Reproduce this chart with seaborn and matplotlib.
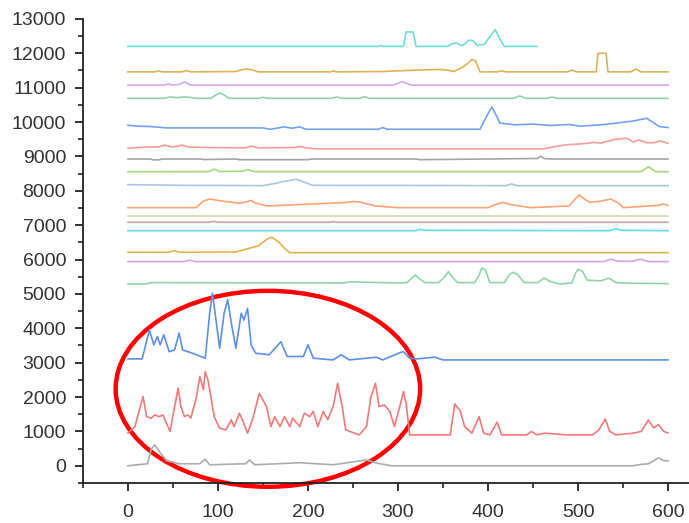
import matplotlib
matplotlib.use("Agg")
import matplotlib.pyplot as plt
import pandas as pd
import seaborn as sns
from matplotlib.patches import Ellipse
from matplotlib.ticker import MultipleLocator

# --- traces, top to bottom (x, intensity) ---
cyan_top_x = [0, 278, 281, 284, 306, 309, 317, 320, 355, 360, 365, 370, 374, 378, 383, 388, 396, 400, 408, 413, 418, 454]
cyan_top_y = [12200, 12200, 12230, 12200, 12200, 12620, 12620, 12200, 12200, 12280, 12300, 12220, 12260, 12380,
              12370, 12230, 12260, 12420, 12690, 12420, 12200, 12200]

gold_top_x = [0, 30, 34, 38, 60, 65, 70, 120, 128, 132, 138, 145, 225, 228, 232, 284, 290, 300, 320, 347, 355, 362,
              372, 378, 382, 386, 391, 410, 415, 420, 488, 493, 498, 520, 522, 531, 533, 558, 564, 570, 600]
gold_top_y = [11460, 11460, 11490, 11460, 11460, 11500, 11460, 11470, 11530, 11540, 11520, 11460, 11460, 11490,
              11460, 11470, 11480, 11490, 11510, 11530, 11510, 11470, 11600, 11720, 11820, 11780, 11460, 11460,
              11490, 11460, 11460, 11510, 11460, 11460, 12000, 12000, 11460, 11460, 11540, 11460, 11460]

violet_top_x = [0, 40, 45, 50, 58, 63, 70, 295, 300, 304, 310, 315, 600]
violet_top_y = [11075, 11075, 11110, 11080, 11100, 11170, 11075, 11075, 11130, 11180, 11120, 11075, 11075]

green_top_x = [0, 40, 47, 55, 62, 69, 75, 92, 98, 102, 107, 112, 145, 150, 155, 226, 232, 238, 258, 263, 268,
               428, 435, 442, 466, 471, 476, 600]
green_top_y = [10690, 10690, 10730, 10710, 10730, 10720, 10690, 10690, 10790, 10850, 10790, 10690, 10690, 10720,
               10690, 10690, 10730, 10690, 10690, 10740, 10690, 10690, 10760, 10690, 10690, 10730, 10690, 10690]

blue_top_x = [0, 10, 25, 43, 150, 158, 165, 174, 182, 191, 198, 278, 283, 288, 391, 398, 404, 410, 413, 430, 450,
              470, 490, 502, 530, 561, 576, 590, 600]
blue_top_y = [9910, 9880, 9870, 9830, 9830, 9790, 9820, 9860, 9820, 9860, 9790, 9790, 9840, 9790, 9790, 10150,
              10440, 10150, 9970, 9920, 9940, 9900, 9930, 9880, 9930, 10030, 10110, 9870, 9840]

red_top_x = [0, 20, 35, 41, 48, 55, 60, 68, 90, 130, 137, 145, 185, 191, 198, 210, 300, 461, 475, 487, 500, 510,
             517, 525, 540, 554, 561, 567, 576, 584, 591, 600]
red_top_y = [9240, 9270, 9280, 9330, 9280, 9290, 9330, 9270, 9260, 9250, 9300, 9250, 9260, 9290, 9250, 9220, 9220,
             9220, 9290, 9340, 9360, 9380, 9410, 9390, 9490, 9530, 9420, 9480, 9400, 9400, 9450, 9380]

grey_top_x = [0, 25, 28, 35, 38, 80, 85, 120, 124, 200, 204, 320, 324, 455, 458, 462, 470, 600]
grey_top_y = [8925, 8925, 8900, 8900, 8925, 8925, 8910, 8925, 8905, 8905, 8925, 8925, 8905, 8940, 9010, 8940,
              8925, 8925]

lime_x = [0, 90, 96, 102, 128, 133, 140, 570, 578, 586, 600]
lime_y = [8555, 8560, 8630, 8560, 8570, 8620, 8560, 8560, 8700, 8560, 8555]

skyblue_x = [0, 60, 150, 165, 171, 180, 187, 195, 205, 420, 426, 432, 600]
skyblue_y = [8180, 8160, 8150, 8220, 8260, 8300, 8335, 8260, 8160, 8150, 8200, 8150, 8150]

orange_x = [0, 76, 84, 91, 105, 124, 132, 137, 142, 155, 243, 250, 258, 275, 300, 400, 410, 417, 425, 447, 490,
            496, 501, 508, 513, 525, 536, 545, 550, 580, 590, 595, 600]
orange_y = [7510, 7510, 7700, 7760, 7700, 7640, 7680, 7720, 7640, 7560, 7660, 7690, 7670, 7560, 7510, 7510, 7620,
            7660, 7600, 7510, 7560, 7740, 7880, 7740, 7660, 7700, 7760, 7640, 7510, 7560, 7580, 7620, 7570]

khaki_x = [0, 600]
khaki_y = [7280, 7280]

rosy_x = [0, 90, 95, 100, 225, 228, 232, 600]
rosy_y = [7085, 7085, 7110, 7085, 7085, 7105, 7085, 7085]

cyan_mid_x = [0, 320, 325, 330, 535, 541, 550, 600]
cyan_mid_y = [6840, 6840, 6880, 6850, 6840, 6890, 6850, 6840]

gold_mid_x = [0, 45, 52, 58, 110, 120, 145, 155, 160, 168, 175, 180, 600]
gold_mid_y = [6210, 6210, 6260, 6210, 6220, 6220, 6400, 6600, 6650, 6500, 6300, 6200, 6200]

violet_mid_x = [0, 62, 69, 75, 528, 536, 544, 560, 569, 578, 600]
violet_mid_y = [5940, 5940, 5980, 5940, 5940, 6010, 5950, 5950, 6010, 5940, 5940]

green_mid_x = [0, 20, 26, 240, 246, 300, 310, 315, 319, 324, 330, 345, 352, 356, 360, 366, 385, 390, 393, 397,
               402, 418, 424, 428, 433, 440, 455, 462, 470, 480, 493, 497, 500, 505, 510, 525, 534, 542, 560, 600]
green_mid_y = [5290, 5290, 5330, 5320, 5350, 5320, 5330, 5450, 5550, 5440, 5330, 5330, 5500, 5650, 5500, 5330,
               5330, 5550, 5750, 5700, 5330, 5330, 5570, 5630, 5560, 5330, 5330, 5460, 5350, 5290, 5320, 5600,
               5720, 5650, 5400, 5380, 5460, 5330, 5310, 5300]

blue_low_x = [0, 16, 24, 29, 33, 36, 40, 46, 52, 57, 61, 72, 86, 91, 94, 98, 102, 107, 111, 115, 120, 126, 129,
              133, 137, 142, 157, 170, 177, 195, 200, 206, 228, 237, 246, 265, 276, 283, 302, 306, 313, 321, 341,
              350, 600]
blue_low_y = [3110, 3110, 3950, 3520, 3760, 3520, 3810, 3320, 3370, 3860, 3370, 3275, 3130, 4440, 5020, 4240,
              3420, 4440, 4830, 4150, 3420, 4440, 4240, 4580, 3520, 3275, 3230, 3610, 3180, 3180, 3520, 3130,
              3080, 3230, 3080, 3130, 3160, 3080, 3290, 3320, 3130, 3110, 3160, 3080, 3080]

red_low_x = [0, 8, 17, 21, 26, 30, 35, 39, 43, 47, 52, 56, 59, 63, 67, 70, 76, 80, 84, 86, 89, 92, 96, 102, 109,
             115, 118, 124, 128, 133, 139, 146, 154, 159, 163, 169, 174, 180, 183, 191, 196, 202, 206, 211, 217,
             222, 228, 233, 238, 242, 257, 265, 270, 275, 279, 285, 291, 296, 302, 306, 309, 313, 358, 363, 369,
             374, 382, 390, 395, 402, 410, 415, 443, 448, 454, 463, 487, 516, 523, 530, 535, 542, 561, 570, 578,
             584, 589, 595, 600]
red_low_y = [950, 1140, 2015, 1430, 1385, 1480, 1430, 1480, 1240, 1000, 1725, 2260, 1725, 1430, 1480, 1385, 1965,
             2600, 2210, 2740, 2500, 2060, 1430, 1095, 1045, 1340, 1140, 1530, 1290, 950, 1385, 2110, 1725, 1140,
             1430, 1140, 1430, 1140, 1385, 1140, 1530, 1430, 1580, 1140, 1580, 1340, 1725, 2400, 1725, 1045, 900,
             1140, 2015, 2400, 1725, 1770, 1580, 1140, 1725, 2160, 1820, 900, 900, 1800, 1600, 1140, 950, 1430,
             950, 900, 1270, 900, 900, 1000, 900, 950, 900, 900, 1050, 1360, 1000, 900, 950, 1000, 1330, 1100,
             1200, 1000, 950]

grey_low_x = [0, 22, 26, 30, 35, 43, 57, 80, 86, 91, 131, 135, 141, 191, 228, 265, 276, 293, 560, 570, 578, 584,
              589, 595, 600]
grey_low_y = [0, 60, 480, 610, 420, 150, 60, 60, 190, 30, 60, 170, 30, 90, 30, 170, 80, 0, 0, 40, 60, 150, 230,
              150, 140]

trace_colors = ["#72dcdc", "#deb256", "#d6a8ee", "#92d2a4", "#74a2ee", "#f59c9c", "#a4a4a4", "#a8d67e",
                "#a8c6e8", "#f8a474", "#d6d6aa", "#caa8a8", "#62dcec", "#e0b44c", "#d2a4f0", "#90d4a8",
                "#5c90ea", "#f07a7a", "#acacac"]

traces = [
    (cyan_top_x, cyan_top_y), (gold_top_x, gold_top_y), (violet_top_x, violet_top_y),
    (green_top_x, green_top_y), (blue_top_x, blue_top_y), (red_top_x, red_top_y),
    (grey_top_x, grey_top_y), (lime_x, lime_y), (skyblue_x, skyblue_y), (orange_x, orange_y),
    (khaki_x, khaki_y), (rosy_x, rosy_y), (cyan_mid_x, cyan_mid_y), (gold_mid_x, gold_mid_y),
    (violet_mid_x, violet_mid_y), (green_mid_x, green_mid_y), (blue_low_x, blue_low_y),
    (red_low_x, red_low_y), (grey_low_x, grey_low_y),
]

frames = []
for i, (xs, ys) in enumerate(traces):
    frames.append(pd.DataFrame({"x": xs, "y": ys, "trace": f"t{i:02d}"}))
df = pd.concat(frames, ignore_index=True)
palette = {f"t{i:02d}": c for i, c in enumerate(trace_colors)}

sns.set_style("ticks")
plt.rcParams["font.family"] = ["Liberation Sans", "DejaVu Sans"]

fig = plt.figure(figsize=(6.89, 5.23), dpi=100)
ax = fig.add_axes([0.12, 0.0765, 0.88, 0.8873])

sns.lineplot(data=df, x="x", y="y", hue="trace", palette=palette, estimator=None, sort=False,
             legend=False, linewidth=1.2, ax=ax)

# red ellipse highlighting the low-x region
ax.add_patch(Ellipse((155.6, 2240), 338, 5700, fill=False, edgecolor="#ff0000", linewidth=3.2, clip_on=False))

ax.set_xlim(-50, 623)
ax.set_ylim(-500, 13000)
ax.xaxis.set_major_locator(MultipleLocator(100))
ax.xaxis.set_minor_locator(MultipleLocator(50))
ax.yaxis.set_major_locator(MultipleLocator(1000))
ax.yaxis.set_minor_locator(MultipleLocator(500))
ax.set_xticks(range(0, 601, 100))
ax.set_yticks(range(0, 13001, 1000))
ax.set_xlabel("")
ax.set_ylabel("")

sns.despine(ax=ax)
for side in ["left", "bottom"]:
    ax.spines[side].set_color("#222222")
    ax.spines[side].set_linewidth(1.3)
ax.tick_params(which="major", length=6, width=1.3, color="#222222", labelsize=14, labelcolor="#333333")
ax.tick_params(which="minor", length=3.5, width=1.2, color="#222222")
ax.tick_params(axis="x", which="major", pad=9)
ax.tick_params(axis="y", which="major", pad=6)

fig.savefig("out.png", dpi=100)
plt.close(fig)
